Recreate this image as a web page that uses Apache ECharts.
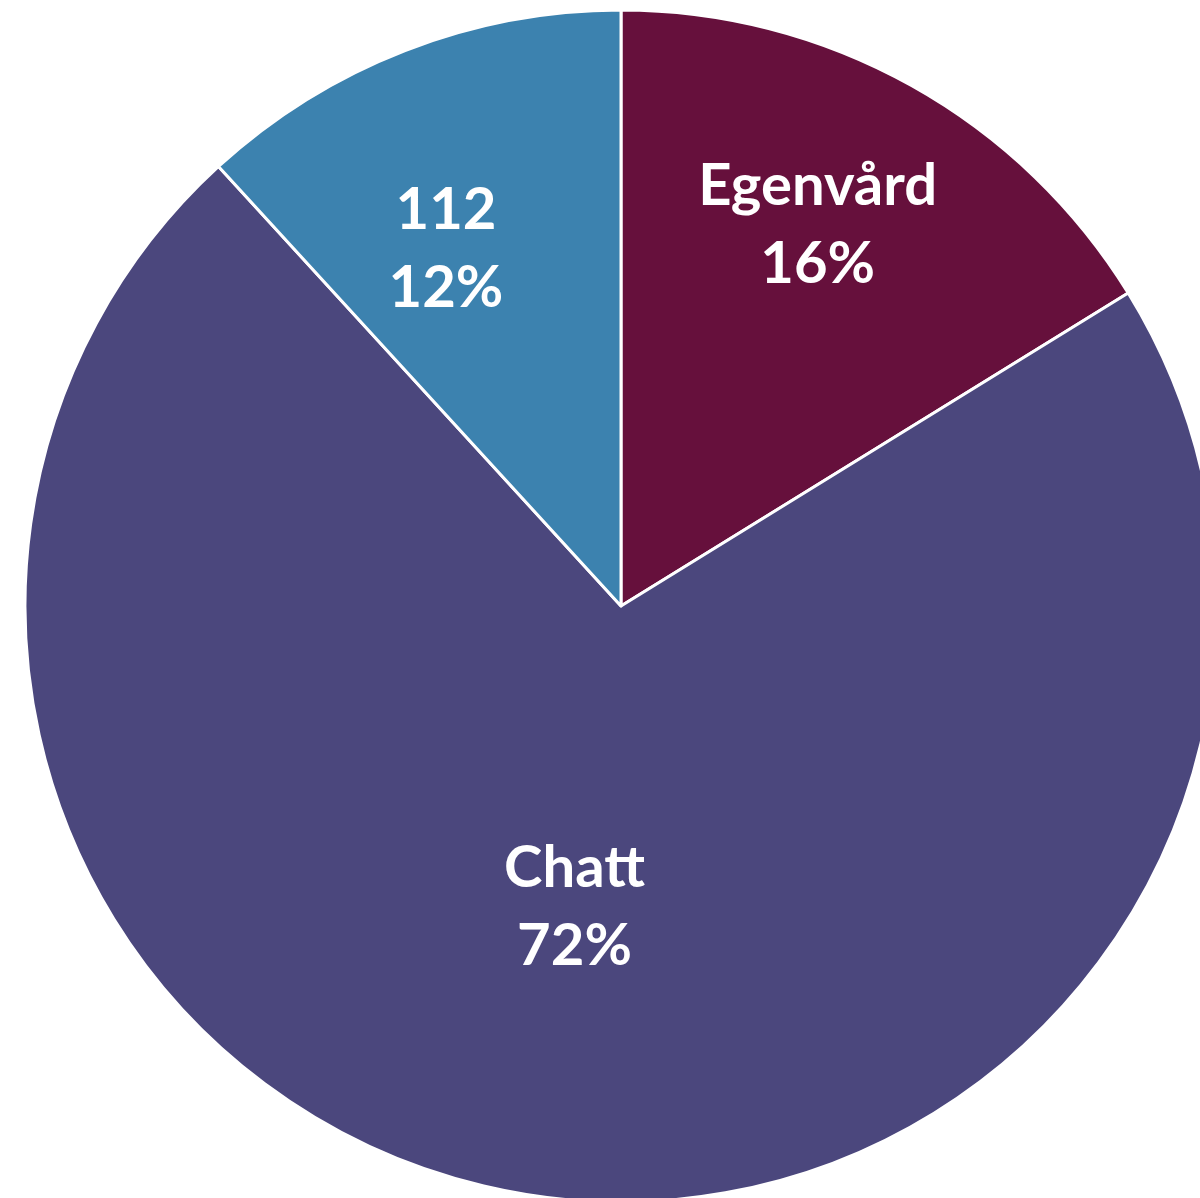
<!DOCTYPE html>
<html>
<head>
<meta charset="utf-8">
<script src="https://cdn.jsdelivr.net/npm/echarts@6/dist/echarts.min.js"></script>
<style>
html, body { margin: 0; padding: 0; background: #fff; }
#chart { width: 1200px; height: 1198px; }
</style>
</head>
<body>
<div id="chart"></div>
<script>
var categories = ['Egenvård', 'Chatt', '112'];
var values = [16.2, 72.0, 11.8];
var colors = ['#66103c', '#4b477d', '#3c82af'];
// label nudges from the default inside position
var labelShift = [[50, -118], [-5, 3], [-66, -76]];

var chart = echarts.init(document.getElementById('chart'));
chart.setOption({
    animation: false,
    series: [{
        type: 'pie',
        center: [621, 606],
        radius: 596,
        startAngle: 90,
        clockwise: true,
        percentPrecision: 0,
        itemStyle: {
            borderColor: '#ffffff',
            borderWidth: 3
        },
        label: {
            position: 'inside',
            formatter: '{b}\n{d}%',
            color: '#ffffff',
            fontFamily: 'Lato',
            fontWeight: 'bold',
            fontSize: 58,
            lineHeight: 78
        },
        labelLayout: function (params) {
            var s = labelShift[params.dataIndex];
            return { dx: s[0], dy: s[1] };
        },
        emphasis: { disabled: true },
        data: categories.map(function (name, i) {
            return { name: name, value: values[i], itemStyle: { color: colors[i] } };
        })
    }]
});
</script>
</body>
</html>
